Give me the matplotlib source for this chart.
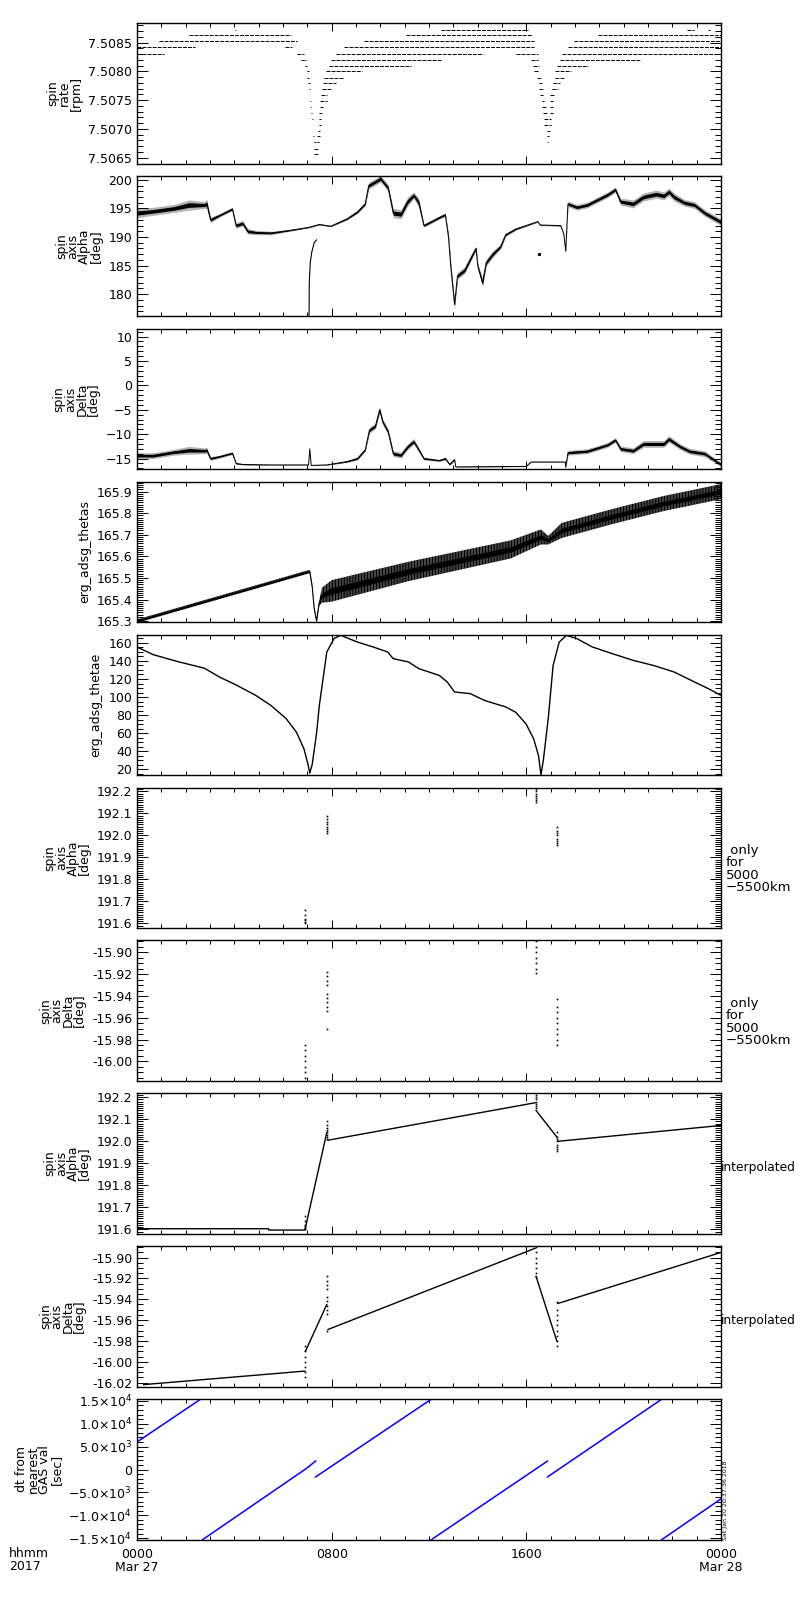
import numpy as np
import matplotlib
matplotlib.use("Agg")
import matplotlib.pyplot as plt
from matplotlib.ticker import MultipleLocator, FixedLocator, FixedFormatter, FormatStrFormatter

plt.rcParams['font.family'] = ['DejaVu Sans']
plt.rcParams['font.size'] = 9
plt.rcParams['hatch.linewidth'] = 0.9
plt.rcParams['axes.linewidth'] = 1.0

nan = np.nan

# -----------------------------
# Data (time in hours of Mar 27 2017)
# -----------------------------
# spin rate: quantized levels and the time spans where each level is seen
rate_levels = [7.50872, 7.50863, 7.50852, 7.50842, 7.50831, 7.50820, 7.50810,
               7.50800, 7.50789, 7.50779, 7.50769, 7.50759, 7.50748, 7.50738,
               7.50728, 7.50717, 7.50707, 7.50697, 7.50687, 7.50677, 7.50666,
               7.50656]
rate_spans = [
    [(4.04, 4.08), (12.49, 16.05), (22.6, 22.9), (23.45, 23.55)],
    [(2.13, 6.31), (11.05, 16.25), (18.93, 24.0)],
    [(0.89, 6.58), (9.33, 16.32), (17.97, 24.0)],
    [(0.0, 2.4), (6.1, 6.38), (8.51, 16.32), (17.70, 24.0)],
    [(0.0, 1.1), (6.58, 6.86), (8.16, 14.2), (15.57, 16.46), (17.46, 24.0)],
    [(6.76, 6.97), (7.96, 12.55), (16.2, 16.46), (17.39, 20.71)],
    [(6.90, 7.0), (7.89, 11.25), (16.26, 16.53), (17.25, 18.52)],
    [(6.97, 7.06), (7.75, 9.26), (16.32, 16.53), (17.18, 17.83)],
    [(7.0, 7.07), (7.68, 8.5), (16.43, 16.6), (17.18, 17.56)],
    [(7.04, 7.1), (7.65, 8.16), (16.53, 16.63), (17.08, 17.37)],
    [(7.07, 7.09), (7.61, 7.96), (16.53, 16.67), (17.04, 17.29)],
    [(7.09, 7.11), (7.57, 7.82), (16.57, 16.67), (16.98, 17.15)],
    [(7.13, 7.15), (7.54, 7.79), (16.63, 16.74), (16.97, 17.08)],
    [(7.13, 7.15), (7.51, 7.65), (16.63, 16.84), (16.98, 17.08)],
    [(7.17, 7.19), (7.48, 7.61), (16.67, 16.87), (16.98, 17.08)],
    [(7.20, 7.22), (7.48, 7.57), (16.71, 17.01)],
    [(7.23, 7.25), (7.48, 7.57), (16.74, 17.01)],
    [(7.23, 7.25), (7.45, 7.54), (16.84, 16.98)],
    [(7.24, 7.26), (7.41, 7.52), (16.84, 16.93)],
    [(7.27, 7.34), (7.41, 7.48), (16.84, 16.87)],
    [(7.27, 7.48)],
    [(7.27, 7.48)],
]

# spin axis alpha: time, centre, half spread
alpha_t = [0.0, 0.67, 1.51, 2.14, 2.77, 2.87, 3.02, 3.40, 3.92, 4.07, 4.34, 4.55,
           4.87, 5.50, 6.34, 7.07, 7.49, 7.80, 7.97, 8.64, 9.06, 9.38, 9.52, 10.01,
           10.32, 10.53, 10.85, 11.12, 11.37, 11.58, 11.79, 12.42, 12.67, 12.80,
           12.90, 13.05, 13.17, 13.47, 13.78, 13.93, 14.01, 14.20, 14.35, 14.62,
           14.94, 15.15, 15.57, 15.99, 16.47, 16.57, 17.41, 17.54, 17.62, 17.71,
           18.08, 18.50, 18.92, 19.34, 19.66, 19.87, 20.39, 20.81, 21.33, 21.65,
           21.86, 22.07, 22.49, 22.91, 23.33, 23.75, 24.0]
alpha_v = [194.2, 194.5, 195.0, 195.6, 195.6, 195.8, 193.0, 193.8, 194.9, 192.0,
           192.4, 191.0, 190.8, 190.7, 191.2, 191.7, 192.2, 192.0, 191.9, 193.2,
           194.4, 195.8, 199.0, 200.2, 198.6, 194.2, 194.0, 196.2, 197.3, 196.0,
           192.0, 193.4, 193.9, 190.0, 184.5, 178.2, 183.2, 184.2, 186.8, 188.0,
           184.8, 182.0, 185.5, 187.0, 188.3, 190.4, 191.4, 192.0, 192.7, 192.1,
           192.0, 190.5, 187.5, 195.8, 195.2, 195.6, 196.5, 197.4, 198.3, 196.2,
           195.8, 197.0, 197.5, 197.2, 197.9, 197.0, 196.0, 195.6, 194.2, 193.2,
           192.6]
alpha_w = [0.8, 0.7, 0.7, 0.9, 0.6, 0.8, 0.5, 0.3, 0.3, 0.5, 0.5, 0.5, 0.4, 0.3,
           0.15, 0.1, 0.1, 0.1, 0.1, 0.2, 0.3, 0.3, 0.6, 0.6, 0.6, 0.8, 0.8, 0.8,
           0.6, 0.8, 0.3, 0.3, 0.3, 0.6, 0.8, 0.6, 0.6, 0.6, 0.5, 0.4, 0.5, 0.8,
           0.6, 0.6, 0.4, 0.3, 0.2, 0.15, 0.1, 0.1, 0.1, 0.1, 0.1, 0.5, 0.5, 0.5,
           0.5, 0.5, 0.5, 0.6, 0.7, 0.7, 0.7, 0.7, 0.7, 0.7, 0.6, 0.6, 0.6, 0.6,
           0.6]
alpha_branch_t = [7.07, 7.08, 7.12, 7.18, 7.28, 7.38]
alpha_branch_v = [176.0, 182.0, 185.5, 187.3, 189.0, 189.5]

# spin axis delta: time, centre, half spread
delta_t = [0.0, 0.67, 1.51, 2.14, 2.77, 2.87, 3.02, 3.40, 3.92, 4.07, 4.34, 5.50,
           7.05, 7.10, 7.16, 7.80, 8.64, 9.06, 9.38, 9.55, 9.80, 9.97, 10.10,
           10.32, 10.53, 10.85, 11.12, 11.37, 11.58, 11.79, 12.42, 12.67, 12.85,
           13.05, 13.10, 15.99, 16.20, 17.60, 17.62, 17.71, 18.50, 19.34, 19.66,
           19.87, 20.39, 20.81, 21.65, 21.86, 22.30, 22.70, 23.33, 23.75, 24.0]
delta_v = [-14.4, -14.4, -13.7, -13.3, -13.4, -13.3, -15.0, -14.6, -13.9, -16.0,
           -16.2, -16.3, -16.3, -13.0, -16.4, -16.3, -15.6, -15.0, -13.2, -9.2,
           -8.3, -5.0, -7.5, -9.5, -14.0, -14.3, -12.6, -11.5, -13.2, -15.0,
           -15.4, -15.0, -16.2, -15.2, -16.7, -16.6, -15.7, -15.7, -16.8, -13.8,
           -13.5, -12.2, -11.2, -13.0, -13.4, -12.0, -12.0, -11.0, -12.5, -13.5,
           -14.0, -15.4, -16.2]
delta_w = [0.6, 0.6, 0.6, 0.8, 0.6, 0.6, 0.4, 0.3, 0.3, 0.2, 0.1, 0.05, 0.05,
           0.05, 0.05, 0.05, 0.2, 0.3, 0.3, 0.6, 0.6, 0.6, 0.6, 0.6, 0.6, 0.6,
           0.6, 0.6, 0.5, 0.3, 0.2, 0.3, 0.2, 0.2, 0.05, 0.05, 0.05, 0.05, 0.05,
           0.5, 0.5, 0.5, 0.5, 0.6, 0.6, 0.7, 0.7, 0.7, 0.6, 0.6, 0.6, 0.5, 0.5]

# erg_adsg_thetas: centre and half width of the spin oscillation band
thetas_t = [0.0, 7.10, 7.20, 7.28, 7.38, 7.48, 7.60, 8.00, 11.15, 15.35, 16.60,
            16.90, 17.45, 19.55, 21.65, 24.0]
thetas_v = [165.300, 165.530, 165.460, 165.360, 165.300, 165.380, 165.420,
            165.440, 165.530, 165.632, 165.690, 165.675, 165.720, 165.785,
            165.845, 165.900]
thetas_w = [0.008, 0.008, 0.005, 0.005, 0.005, 0.01, 0.035, 0.05, 0.045, 0.042,
            0.035, 0.02, 0.035, 0.035, 0.035, 0.035]

# erg_adsg_thetae
thetae_t = [0.0, 0.67, 1.72, 2.77, 3.40, 4.03, 4.87, 5.50, 6.13, 6.55, 6.86,
            7.03, 7.10, 7.20, 7.38, 7.49, 7.80, 8.10, 8.37, 9.06, 9.70, 10.30,
            10.53, 11.15, 11.58, 12.42, 12.75, 13.05, 13.70, 14.30, 15.15, 15.57,
            15.99, 16.30, 16.50, 16.60, 16.70, 16.90, 17.10, 17.35, 17.65, 18.08,
            18.71, 19.55, 20.39, 21.23, 22.07, 22.91, 23.50, 24.0]
thetae_v = [155.6, 147, 139, 132, 122, 114, 102, 90.7, 76, 61, 42.6, 25, 15.5,
            25, 60, 90, 150, 165, 168.5, 161, 155.6, 150, 142.6, 139, 131.5, 124,
            116.7, 105.6, 103.7, 96, 89, 83, 70, 53.7, 35, 13.5, 30, 76, 135, 161,
            168.5, 164.8, 155.6, 148, 140.7, 135, 127.8, 116.7, 109, 101.8]

# spin axis only for 5000-5500 km (point samples)
only_alpha_t = [6.92] * 6 + [7.80] * 8 + [16.40] * 7 + [17.28] * 8
only_alpha_v = [191.600, 191.607, 191.615, 191.622, 191.640, 191.660,
                192.010, 192.020, 192.030, 192.040, 192.050, 192.060, 192.075, 192.090,
                192.150, 192.160, 192.170, 192.180, 192.190, 192.200, 192.210,
                191.955, 191.965, 191.975, 191.985, 192.000, 192.010, 192.020, 192.040]
only_delta_t = [6.92] * 7 + [7.80] * 10 + [16.40] * 7 + [17.28] * 9
only_delta_v = [-15.985, -15.990, -15.995, -16.000, -16.005, -16.010, -16.015,
                -15.918, -15.922, -15.926, -15.930, -15.938, -15.942, -15.946,
                -15.950, -15.954, -15.970,
                -15.890, -15.895, -15.900, -15.905, -15.910, -15.915, -15.919,
                -15.943, -15.950, -15.955, -15.960, -15.965, -15.970, -15.975,
                -15.980, -15.985]

# interpolated spin axis
interp_alpha_t = [0.0, 5.40, 5.42, 6.90, 7.80, nan, 7.85, 16.36, nan, 16.40, 17.25,
                  nan, 17.30, 24.0]
interp_alpha_v = [191.603, 191.603, 191.597, 191.597, 192.040, nan, 192.005,
                  192.175, nan, 192.140, 192.020, nan, 192.000, 192.072]
interp_delta_t = [0.27, 6.90, nan, 6.92, 7.80, nan, 7.85, 16.36, nan, 16.40, 17.25,
                  nan, 17.30, 24.0]
interp_delta_v = [-16.022, -16.009, nan, -15.990, -15.945, nan, -15.969, -15.891,
                  nan, -15.918, -15.980, nan, -15.944, -15.895]

# dt from nearest GAS value [sec]
dt_t = [0.0, 2.62, nan, 2.70, 6.96, 7.34, nan, 7.34, 12.10, nan, 12.10, 16.87,
        nan, 16.87, 21.57, nan, 21.57, 24.0]
dt_v = [6000, 15370, nan, -15300, 220, 1840, nan, -1620, 15370, nan, -15300,
        1840, nan, -1620, 15370, nan, -15300, -6400]

xtick_labels = ['0000\nMar 27', '0800', '1600', '0000\nMar 28']
dt_ticks = [-15000, -10000, -5000, 0, 5000, 10000, 15000]
dt_tick_labels = [r'$-1.5{\times}10^4$', r'$-1.0{\times}10^4$', r'$-5.0{\times}10^3$',
                  '0', r'$5.0{\times}10^3$', r'$1.0{\times}10^4$', r'$1.5{\times}10^4$']

# -----------------------------
# Layout
# -----------------------------
fig = plt.figure(figsize=(8, 16), dpi=100)
axes = []
for i in range(10):
    top = 23 + i * 152.9
    ax = fig.add_axes([137 / 800, 1 - (top + 140.5) / 1600, 584 / 800, 140.5 / 1600])
    ax.set_xlim(0, 24)
    ax.xaxis.set_major_locator(MultipleLocator(8))
    ax.xaxis.set_minor_locator(MultipleLocator(1))
    ax.tick_params(which='both', direction='in', top=True, right=True,
                   labelbottom=False, width=0.7, labelsize=9)
    ax.tick_params(axis='x', which='major', length=6)
    ax.tick_params(axis='x', which='minor', length=3)
    ax.tick_params(axis='y', which='major', length=8)
    ax.tick_params(axis='y', which='minor', length=4)
    axes.append(ax)

def ylab(ax, text):
    ax.set_ylabel(text, fontsize=9, linespacing=0.85, labelpad=4)

def noisy_band(ax, t, v, w):
    v, w = np.array(v), np.array(w)
    ax.fill_between(t, v - w, v + w, color='k', alpha=0.3, lw=0)
    ax.fill_between(t, v - 0.45 * w, v + 0.45 * w, color='k', lw=0)
    ax.plot(t, v, color='k', lw=0.7)

# 1 spin rate
ax = axes[0]
for lvl, spans in zip(rate_levels, rate_spans):
    ax.hlines([lvl] * len(spans), [s[0] for s in spans], [s[1] for s in spans],
              colors='k', lw=0.7, linestyles=(0, (4, 1.2)))
ax.set_ylim(7.50640, 7.50884)
ax.yaxis.set_major_locator(MultipleLocator(0.0005))
ax.yaxis.set_minor_locator(MultipleLocator(0.0001))
ax.yaxis.set_major_formatter(FormatStrFormatter('%.4f'))
ylab(ax, 'spin\nrate\n[rpm]')

# 2 spin axis alpha
ax = axes[1]
noisy_band(ax, alpha_t, alpha_v, alpha_w)
ax.plot(alpha_branch_t, alpha_branch_v, color='k', lw=0.8)
ax.plot([16.5], [187.1], 's', color='k', ms=1.2)
ax.set_ylim(176.1, 200.7)
ax.yaxis.set_major_locator(MultipleLocator(5))
ax.yaxis.set_minor_locator(MultipleLocator(1))
ylab(ax, 'spin\naxis\nAlpha\n[deg]')

# 3 spin axis delta
ax = axes[2]
noisy_band(ax, delta_t, delta_v, delta_w)
ax.set_ylim(-17.2, 11.6)
ax.yaxis.set_major_locator(MultipleLocator(5))
ax.yaxis.set_minor_locator(MultipleLocator(1))
ylab(ax, 'spin\naxis\nDelta\n[deg]')

# 4 thetas
ax = axes[3]
tv, tw = np.array(thetas_v), np.array(thetas_w)
ax.fill_between(thetas_t, tv - tw, tv + tw, facecolor='none', edgecolor='k',
                hatch='|||||||||||', lw=0)
ax.fill_between(thetas_t, tv - 0.3 * tw, tv + 0.3 * tw, color='k', lw=0)
ax.plot(thetas_t, tv, color='k', lw=0.8)
ax.set_ylim(165.295, 165.946)
ax.yaxis.set_major_locator(MultipleLocator(0.1))
ax.yaxis.set_minor_locator(MultipleLocator(0.01))
ax.yaxis.set_major_formatter(FormatStrFormatter('%.1f'))
ylab(ax, 'erg_adsg_thetas')

# 5 thetae
ax = axes[4]
ax.plot(thetae_t, thetae_v, color='k', lw=1.0)
ax.set_ylim(13.3, 169.3)
ax.yaxis.set_major_locator(MultipleLocator(20))
ax.yaxis.set_minor_locator(MultipleLocator(5))
ylab(ax, 'erg_adsg_thetae')

# 6 / 7 only for 5000-5500 km
only_note = ' only\nfor\n5000\n\u22125500km'
ax = axes[5]
ax.plot(only_alpha_t, only_alpha_v, 's', color='k', ms=1.2, mew=0)
ax.set_ylim(191.579, 192.218)
ax.yaxis.set_major_locator(MultipleLocator(0.1))
ax.yaxis.set_minor_locator(MultipleLocator(0.01))
ax.yaxis.set_major_formatter(FormatStrFormatter('%.1f'))
ylab(ax, 'spin\naxis\nAlpha\n[deg]')
ax.text(1.008, 0.42, only_note, transform=ax.transAxes,
        ha='left', va='center', fontsize=9.5, linespacing=0.95)

ax = axes[6]
ax.plot(only_delta_t, only_delta_v, 's', color='k', ms=1.2, mew=0)
ax.set_ylim(-16.018, -15.889)
ax.yaxis.set_major_locator(MultipleLocator(0.02))
ax.yaxis.set_minor_locator(MultipleLocator(0.005))
ax.yaxis.set_major_formatter(FormatStrFormatter('%.2f'))
ylab(ax, 'spin\naxis\nDelta\n[deg]')
ax.text(1.008, 0.42, only_note, transform=ax.transAxes,
        ha='left', va='center', fontsize=9.5, linespacing=0.95)

# 8 / 9 interpolated
ax = axes[7]
ax.plot(interp_alpha_t, interp_alpha_v, color='k', lw=1.0)
ax.plot(only_alpha_t, only_alpha_v, 's', color='k', ms=1.2, mew=0)
ax.set_ylim(191.58, 192.218)
ax.yaxis.set_major_locator(MultipleLocator(0.1))
ax.yaxis.set_minor_locator(MultipleLocator(0.01))
ax.yaxis.set_major_formatter(FormatStrFormatter('%.1f'))
ylab(ax, 'spin\naxis\nAlpha\n[deg]')
ax.text(1.0, 0.47, 'interpolated', transform=ax.transAxes, ha='left', va='center',
        fontsize=8.8)

ax = axes[8]
ax.plot(interp_delta_t, interp_delta_v, color='k', lw=1.0)
ax.plot(only_delta_t, only_delta_v, 's', color='k', ms=1.2, mew=0)
ax.set_ylim(-16.024, -15.889)
ax.yaxis.set_major_locator(MultipleLocator(0.02))
ax.yaxis.set_minor_locator(MultipleLocator(0.005))
ax.yaxis.set_major_formatter(FormatStrFormatter('%.2f'))
ylab(ax, 'spin\naxis\nDelta\n[deg]')
ax.text(1.0, 0.47, 'interpolated', transform=ax.transAxes, ha='left', va='center',
        fontsize=8.8)

# 10 dt from nearest GAS value
ax = axes[9]
ax.plot(dt_t, dt_v, color='blue', lw=1.1)
ax.set_ylim(-15300, 15370)
ax.yaxis.set_major_locator(FixedLocator(dt_ticks))
ax.yaxis.set_major_formatter(FixedFormatter(dt_tick_labels))
ax.yaxis.set_minor_locator(MultipleLocator(1000))
ylab(ax, 'dt from\nnearest\nGAS val\n[sec]')
ax.tick_params(axis='x', labelbottom=True, pad=6)
ax.set_xticks([0, 8, 16, 24])
ax.set_xticklabels(xtick_labels, linespacing=1.0)
ax.text(1.004, 0.0, 'Sat Jan 20 20:37:36 2018', transform=ax.transAxes,
        rotation=90, ha='left', va='bottom', fontsize=4.5)
fig.text(9 / 800, 1 - 1547 / 1600, 'hhmm\n2017', ha='left', va='top',
         fontsize=9, linespacing=1.0)

fig.savefig('out.png', dpi=100)
